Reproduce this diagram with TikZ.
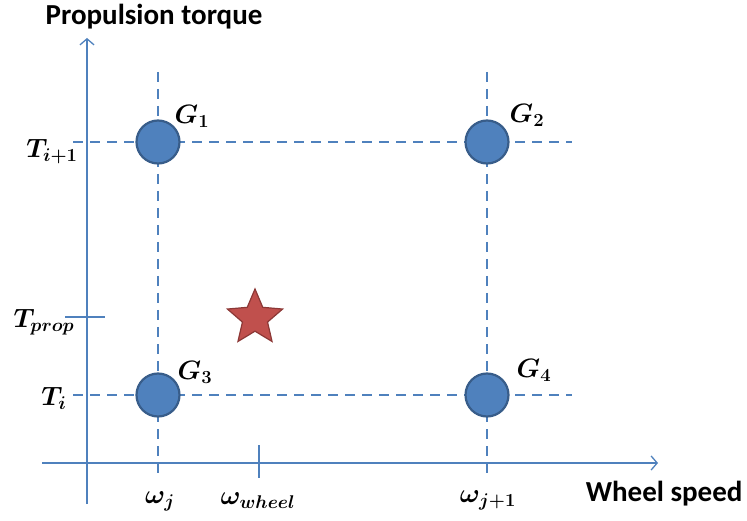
\documentclass[tikz,border=0pt]{standalone}
\usepackage{fontspec}
\newfontfamily\axisfont{Carlito}
\usetikzlibrary{arrows.meta,shapes.geometric}

\definecolor{lineblue}{RGB}{79,129,189}
\definecolor{ptblue}{RGB}{79,129,189}
\definecolor{ptedge}{RGB}{56,93,138}
\definecolor{starred}{RGB}{192,80,77}
\definecolor{staredge}{RGB}{140,56,54}

\begin{document}
\begin{tikzpicture}[
      x=1pt,y=-1pt,
      gridpt/.style={
         circle,
         draw=ptedge,
         fill=ptblue,
         line width=2.2pt,
         inner sep=0pt,
         minimum size=43pt},
      opstar/.style={
         star,
         star points=5,
         star point ratio=2.2,
         draw=staredge,
         fill=starred,
         line width=1.2pt,
         inner sep=0pt,
         minimum size=58pt},
      axisline/.style={draw=lineblue,line width=1.3pt},
      axisarrow/.style={axisline,-{Straight Barb[length=6pt,width=14pt]}},
      gridline/.style={draw=lineblue,line width=2pt,dash pattern=on 10pt off 7pt},
      mlabel/.style={font=\fontsize{22}{26}\selectfont\boldmath,scale=1.28},
      tlabel/.style={font=\fontsize{29}{34}\selectfont\axisfont\bfseries}
      ]
      \useasboundingbox (0,0) rectangle (747,521);

      % axes
      \coordinate (ybot) at (87,504);
      \coordinate (ytop) at (87,38);
      \coordinate (xleft) at (42,463);
      \coordinate (xright) at (658,463);
      \draw[axisarrow] (ybot) -- (ytop);
      \draw[axisarrow] (xleft) -- (xright);
      \node[tlabel] (ytitle) at (154,17) {Propulsion torque};
      \node[tlabel,anchor=east] (xtitle) at (746,494) {Wheel speed};

      % grid lines
      \foreach \x/\n in {158/a,487/b} {
         \coordinate (v\n top) at (\x,72);
         \coordinate (v\n bot) at (\x,480);
         \draw[gridline] (v\n top) -- (v\n bot);
      }
      \foreach \y/\n in {142/a,395/b} {
         \coordinate (h\n left) at (73,\y);
         \coordinate (h\n right) at (572,\y);
         \draw[gridline] (h\n left) -- (h\n right);
      }

      % ticks
      \coordinate (tp1) at (65,317);
      \coordinate (tp2) at (105,317);
      \coordinate (tw1) at (259,445);
      \coordinate (tw2) at (259,478);
      \draw[axisline] (tp1) -- (tp2);
      \draw[axisline] (tw1) -- (tw2);

      % grid points
      \foreach \x/\y/\n/\lx/\ly in {158/142/1/192/116,
                                    487/142/2/527/115,
                                    158/395/3/195/372,
                                    487/395/4/534/370} {
         \node[gridpt] (g\n) at (\x,\y) {};
         \node[mlabel] (lg\n) at (\lx,\ly) {$G_{\n}$};
      }
      \node[opstar] (op) at (255,318) {};

      % labels
      \node[mlabel] (ti1) at (52,152) {$T_{i+1}$};
      \node[mlabel] (tprop) at (44,322) {$T_{prop}$};
      \node[mlabel] (ti) at (54,398) {$T_{i}$};
      \node[mlabel] (wj) at (160,501) {$\omega_{j}$};
      \node[mlabel] (ww) at (258,501) {$\omega_{wheel}$};
      \node[mlabel] (wj1) at (488,500) {$\omega_{j+1}$};
\end{tikzpicture}
\end{document}
